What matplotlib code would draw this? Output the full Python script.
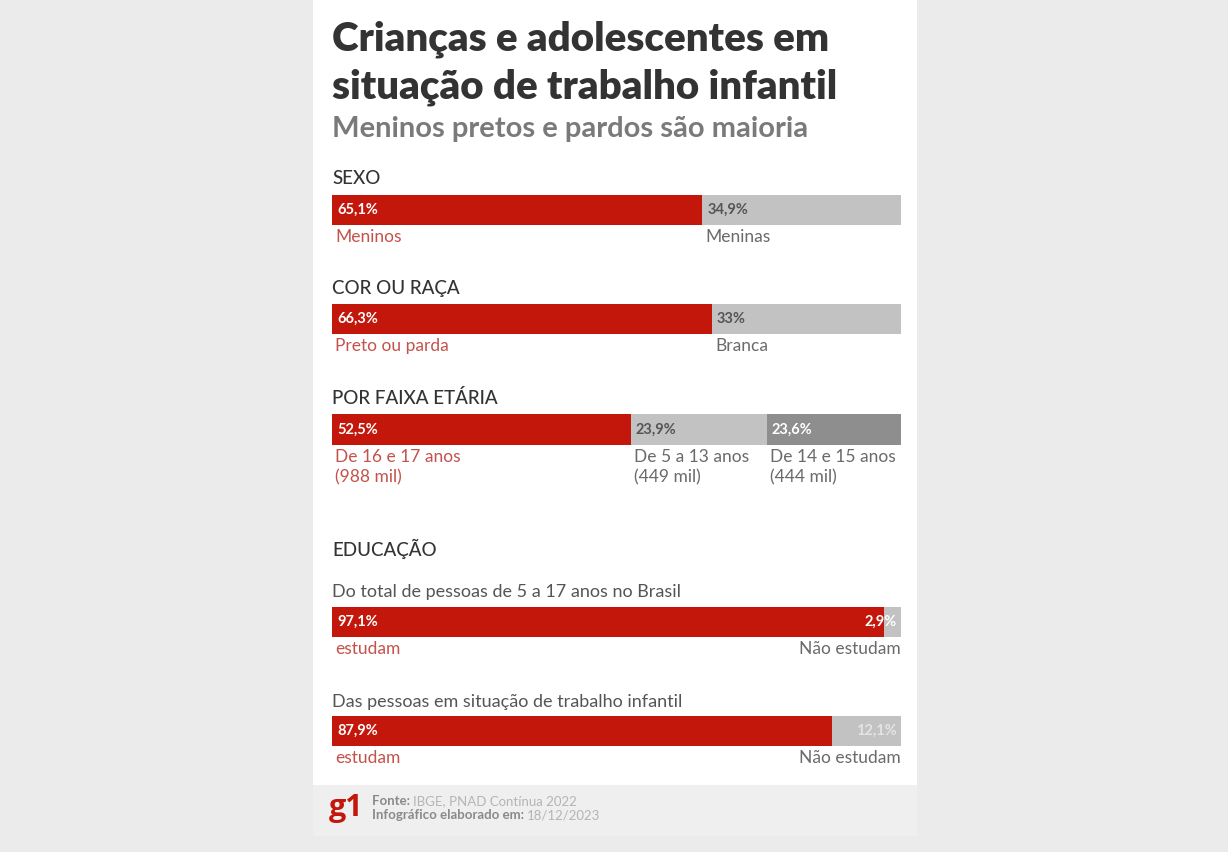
import matplotlib

matplotlib.use("Agg")

import matplotlib.pyplot as plt  # noqa: E402
from matplotlib.patches import Rectangle  # noqa: E402

W, H = 1228, 852

RED = "#c4170c"
LIGHT_GRAY = "#c2c2c2"
DARK_GRAY = "#8e8e8e"
INK = "#333333"

plt.rcParams.update({
    "font.family": ["Lato", "DejaVu Sans"],
})

# Dados: PNAD Contínua 2022
sexo_labels = ["Meninos", "Meninas"]
sexo_values = [65.1, 34.9]

raca_labels = ["Preto ou parda", "Branca"]
raca_values = [66.3, 33.0]

idade_labels = ["De 16 e 17 anos\n(988 mil)", "De 5 a 13 anos\n(449 mil)", "De 14 e 15 anos\n(444 mil)"]
idade_values = [52.5, 23.9, 23.6]

edu_labels = ["estudam", "Não estudam"]
edu_total_values = [97.1, 2.9]
edu_trabalho_values = [87.9, 12.1]


def fx(px):
    return px / W


def fy(py):
    return 1 - py / H


def pct(v):
    s = f"{v:.1f}".rstrip("0").rstrip(".")
    return s.replace(".", ",") + "%"


fig = plt.figure(figsize=(W / 100, H / 100), dpi=100)
fig.patch.set_facecolor("#ebebeb")
fig.patches.append(Rectangle((fx(313), fy(785)), fx(917) - fx(313), fy(0) - fy(785),
                             transform=fig.transFigure, facecolor="white", edgecolor="none", zorder=-2))
fig.patches.append(Rectangle((fx(313), fy(836)), fx(917) - fx(313), fy(785) - fy(836),
                             transform=fig.transFigure, facecolor="#efefef", edgecolor="none", zorder=-2))

X0, X1 = 332, 901


def text(x, y, s, **kw):
    kw.setdefault("va", "baseline")
    kw.setdefault("ha", "left")
    return fig.text(fx(x), fy(y), s, **kw)


text(X0, 50, "Crianças e adolescentes em", fontsize=29, fontweight="heavy", color=INK)
text(X0, 99, "situação de trabalho infantil", fontsize=29, fontweight="heavy", color=INK)
text(X0, 137, "Meninos pretos e pardos são maioria", fontsize=21, fontweight="bold", color="#7a7a7a")

VALUE_SIZE = 10.5
LABEL_SIZE = 12.5


def stacked_bar(top, bottom, values, colors, labels, label_colors, value_colors,
                right_last=False):
    ax = fig.add_axes([fx(X0), fy(bottom), fx(X1) - fx(X0), fy(top) - fy(bottom)])
    lefts = [sum(values[:i]) for i in range(len(values))]
    ax.barh(0, values, left=lefts, height=1.0, color=colors, linewidth=0)
    ax.set_xlim(0, sum(values))
    ax.set_ylim(-0.5, 0.5)
    ax.axis("off")
    for i, (left, v) in enumerate(zip(lefts, values)):
        last = right_last and i == len(values) - 1
        if last:
            ax.annotate(pct(v), xy=(left + v, 0), xytext=(-4, 0), textcoords="offset pixels",
                        ha="right", va="center", fontsize=VALUE_SIZE, fontweight="bold",
                        color=value_colors[i], annotation_clip=False)
            ax.annotate(labels[i], xy=(left + v, -0.5), xytext=(0, -4), textcoords="offset pixels",
                        ha="right", va="top", fontsize=LABEL_SIZE,
                        color=label_colors[i], annotation_clip=False)
        else:
            ax.annotate(pct(v), xy=(left, 0), xytext=(5, 0), textcoords="offset pixels",
                        ha="left", va="center", fontsize=VALUE_SIZE, fontweight="bold",
                        color=value_colors[i], annotation_clip=False)
            ax.annotate(labels[i], xy=(left, -0.5), xytext=(3, -4), textcoords="offset pixels",
                        ha="left", va="top", fontsize=LABEL_SIZE,
                        color=label_colors[i], linespacing=1.3, annotation_clip=False)
    return ax


LABEL_RED = "#c4524b"
LABEL_GRAY = "#6a6a6a"
HEAD = dict(fontsize=13.5, fontweight="medium", color=INK)

text(X0, 184, "SEXO", **HEAD)
stacked_bar(195, 225, sexo_values, [RED, LIGHT_GRAY], sexo_labels,
            [LABEL_RED, LABEL_GRAY], ["white", "#555555"])

text(X0, 294, "COR OU RAÇA", **HEAD)
stacked_bar(304, 334, raca_values, [RED, LIGHT_GRAY], raca_labels,
            [LABEL_RED, LABEL_GRAY], ["white", "#555555"])

text(X0, 404, "POR FAIXA ETÁRIA", **HEAD)
stacked_bar(414, 445, idade_values, [RED, LIGHT_GRAY, DARK_GRAY], idade_labels,
            [LABEL_RED, LABEL_GRAY, LABEL_GRAY], ["white", "#555555", "white"])

text(X0, 556, "EDUCAÇÃO", **HEAD)
text(X0, 597, "Do total de pessoas de 5 a 17 anos no Brasil", fontsize=13, color="#555555")
stacked_bar(607, 637, edu_total_values, [RED, LIGHT_GRAY], edu_labels,
            [LABEL_RED, LABEL_GRAY], ["white", "white"], right_last=True)

text(X0, 707, "Das pessoas em situação de trabalho infantil", fontsize=13, color="#555555")
stacked_bar(716, 746, edu_trabalho_values, [RED, LIGHT_GRAY], edu_labels,
            [LABEL_RED, LABEL_GRAY], ["white", "#e4e4e4"], right_last=True)

# rodapé
text(X0 - 3, 816, "g1", fontsize=22, fontweight="bold", color="#c4170c", family="Open Sans")
renderer = fig.canvas.get_renderer()
for y, bold, rest in [(805, "Fonte: ", "IBGE, PNAD Contínua 2022"),
                      (819, "Infográfico elaborado em: ", "18/12/2023")]:
    t = text(372, y, bold, fontsize=9.5, fontweight="bold", color="#8a8a8a")
    bb = t.get_window_extent(renderer)
    fig.text(bb.x1 / W, fy(y), rest, fontsize=9.5, color="#b5b5b5", va="baseline")

fig.savefig("out.png", dpi=100, facecolor=fig.get_facecolor())
